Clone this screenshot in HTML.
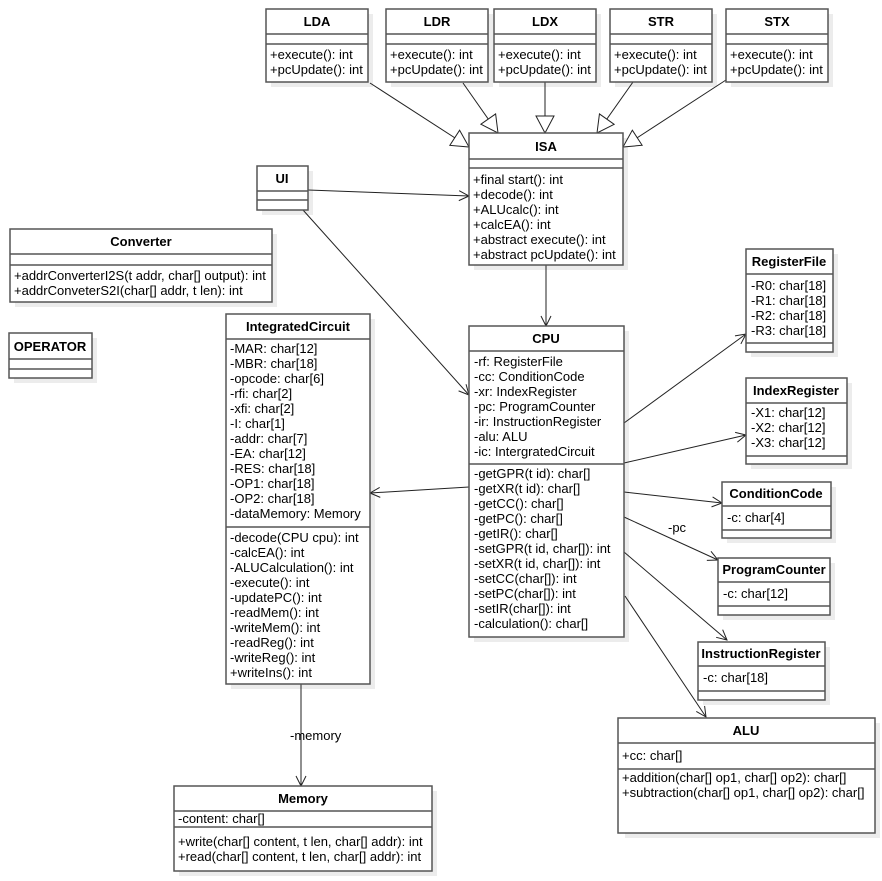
<!DOCTYPE html>
<html><head><meta charset="utf-8"><style>
html,body{margin:0;padding:0;background:#fff;}
svg{display:block;}
text{font-family:"Liberation Sans",Arial,sans-serif;font-size:13px;fill:#000;}
.b{font-weight:bold;text-anchor:middle;}
.box{fill:#fff;stroke:#555;stroke-width:1.5;}
.sh{fill:#ececec;}
.ln{stroke:#555;stroke-width:1.5;}
.c{stroke:#222;stroke-width:1;fill:none;}
</style></head><body>
<svg width="882" height="881" viewBox="0 0 882 881" xmlns="http://www.w3.org/2000/svg">
<defs>
<marker id="oa" markerWidth="12" markerHeight="12" refX="11" refY="6" orient="auto" markerUnits="userSpaceOnUse">
<path d="M1,1 L11,6 L1,11" fill="none" stroke="#222" stroke-width="1"/>
</marker>
<marker id="tri" markerWidth="20" markerHeight="20" refX="18" refY="10" orient="auto" markerUnits="userSpaceOnUse">
<path d="M1,1 L18,10 L1,19 Z" fill="#fff" stroke="#222" stroke-width="1"/>
</marker>
</defs>

<g class="sh">
<rect x="271" y="14" width="102" height="73"/>
<rect x="391" y="14" width="102" height="73"/>
<rect x="499" y="14" width="102" height="73"/>
<rect x="615" y="14" width="102" height="73"/>
<rect x="731" y="14" width="102" height="73"/>
<rect x="474" y="138" width="154" height="132"/>
<rect x="262" y="171" width="51" height="44"/>
<rect x="15" y="234" width="262" height="73"/>
<rect x="14" y="338" width="83" height="45"/>
<rect x="231" y="319" width="144" height="370"/>
<rect x="474" y="331" width="155" height="311"/>
<rect x="751" y="254" width="87" height="103"/>
<rect x="751" y="383" width="101" height="86"/>
<rect x="727" y="487" width="109" height="56"/>
<rect x="723" y="563" width="112" height="57"/>
<rect x="703" y="647" width="127" height="58"/>
<rect x="625" y="723" width="255" height="115"/>
<rect x="179" y="791" width="258" height="85"/>
</g>

<g class="c">
<line x1="370" y1="83" x2="469" y2="147" marker-end="url(#tri)"/>
<line x1="463" y1="83" x2="498" y2="133" marker-end="url(#tri)"/>
<line x1="545" y1="82" x2="545" y2="133" marker-end="url(#tri)"/>
<line x1="633" y1="82" x2="597" y2="133" marker-end="url(#tri)"/>
<line x1="726" y1="80" x2="623" y2="147" marker-end="url(#tri)"/>
<line x1="308" y1="190" x2="469" y2="196" marker-end="url(#oa)"/>
<line x1="303" y1="210" x2="469" y2="395" marker-end="url(#oa)"/>
<line x1="546" y1="265" x2="546" y2="326" marker-end="url(#oa)"/>
<line x1="469" y1="487" x2="370" y2="493" marker-end="url(#oa)"/>
<line x1="624" y1="423" x2="746" y2="334" marker-end="url(#oa)"/>
<line x1="624" y1="463" x2="746" y2="435" marker-end="url(#oa)"/>
<line x1="624" y1="492" x2="722" y2="503" marker-end="url(#oa)"/>
<line x1="624" y1="517" x2="718" y2="560" marker-end="url(#oa)"/>
<line x1="624" y1="552" x2="727" y2="640" marker-end="url(#oa)"/>
<line x1="625" y1="596" x2="706" y2="717" marker-end="url(#oa)"/>
<line x1="301" y1="684" x2="301" y2="786" marker-end="url(#oa)"/>
</g>
<text x="668" y="532">-pc</text>
<text x="290" y="740">-memory</text>

<g>
<rect class="box" x="266" y="9" width="102" height="73"/><line class="ln" x1="266" y1="34" x2="368" y2="34"/><line class="ln" x1="266" y1="44" x2="368" y2="44"/>
<text class="b" x="317" y="26">LDA</text><text x="270" y="59">+execute(): int</text><text x="270" y="74">+pcUpdate(): int</text>
<rect class="box" x="386" y="9" width="102" height="73"/><line class="ln" x1="386" y1="34" x2="488" y2="34"/><line class="ln" x1="386" y1="44" x2="488" y2="44"/>
<text class="b" x="437" y="26">LDR</text><text x="390" y="59">+execute(): int</text><text x="390" y="74">+pcUpdate(): int</text>
<rect class="box" x="494" y="9" width="102" height="73"/><line class="ln" x1="494" y1="34" x2="596" y2="34"/><line class="ln" x1="494" y1="44" x2="596" y2="44"/>
<text class="b" x="545" y="26">LDX</text><text x="498" y="59">+execute(): int</text><text x="498" y="74">+pcUpdate(): int</text>
<rect class="box" x="610" y="9" width="102" height="73"/><line class="ln" x1="610" y1="34" x2="712" y2="34"/><line class="ln" x1="610" y1="44" x2="712" y2="44"/>
<text class="b" x="661" y="26">STR</text><text x="614" y="59">+execute(): int</text><text x="614" y="74">+pcUpdate(): int</text>
<rect class="box" x="726" y="9" width="102" height="73"/><line class="ln" x1="726" y1="34" x2="828" y2="34"/><line class="ln" x1="726" y1="44" x2="828" y2="44"/>
<text class="b" x="777" y="26">STX</text><text x="730" y="59">+execute(): int</text><text x="730" y="74">+pcUpdate(): int</text>
</g>

<rect class="box" x="469" y="133" width="154" height="132"/><line class="ln" x1="469" y1="159" x2="623" y2="159"/><line class="ln" x1="469" y1="168" x2="623" y2="168"/>
<text class="b" x="546" y="151">ISA</text>
<text x="473" y="184">+final start(): int</text><text x="473" y="199">+decode(): int</text><text x="473" y="214">+ALUcalc(): int</text><text x="473" y="229">+calcEA(): int</text><text x="473" y="244">+abstract execute(): int</text><text x="473" y="259">+abstract pcUpdate(): int</text>

<rect class="box" x="257" y="166" width="51" height="44"/><line class="ln" x1="257" y1="191" x2="308" y2="191"/><line class="ln" x1="257" y1="200" x2="308" y2="200"/>
<text class="b" x="282" y="183">UI</text>

<rect class="box" x="10" y="229" width="262" height="73"/><line class="ln" x1="10" y1="254" x2="272" y2="254"/><line class="ln" x1="10" y1="265" x2="272" y2="265"/>
<text class="b" x="141" y="246">Converter</text>
<text x="14" y="280">+addrConverterI2S(t addr, char[] output): int</text><text x="14" y="295">+addrConveterS2I(char[] addr, t len): int</text>

<rect class="box" x="9" y="333" width="83" height="45"/><line class="ln" x1="9" y1="359" x2="92" y2="359"/><line class="ln" x1="9" y1="369" x2="92" y2="369"/>
<text class="b" x="50" y="351">OPERATOR</text>

<rect class="box" x="226" y="314" width="144" height="370"/><line class="ln" x1="226" y1="339" x2="370" y2="339"/><line class="ln" x1="226" y1="527" x2="370" y2="527"/>
<text class="b" x="298" y="331">IntegratedCircuit</text>
<text x="230" y="353">-MAR: char[12]</text><text x="230" y="368">-MBR: char[18]</text><text x="230" y="383">-opcode: char[6]</text><text x="230" y="398">-rfi: char[2]</text><text x="230" y="413">-xfi: char[2]</text><text x="230" y="428">-I: char[1]</text><text x="230" y="443">-addr: char[7]</text><text x="230" y="458">-EA: char[12]</text><text x="230" y="473">-RES: char[18]</text><text x="230" y="488">-OP1: char[18]</text><text x="230" y="503">-OP2: char[18]</text><text x="230" y="518">-dataMemory: Memory</text>
<text x="230" y="542">-decode(CPU cpu): int</text><text x="230" y="557">-calcEA(): int</text><text x="230" y="572">-ALUCalculation(): int</text><text x="230" y="587">-execute(): int</text><text x="230" y="602">-updatePC(): int</text><text x="230" y="617">-readMem(): int</text><text x="230" y="632">-writeMem(): int</text><text x="230" y="647">-readReg(): int</text><text x="230" y="662">-writeReg(): int</text><text x="230" y="677">+writeIns(): int</text>

<rect class="box" x="469" y="326" width="155" height="311"/><line class="ln" x1="469" y1="351" x2="624" y2="351"/><line class="ln" x1="469" y1="464" x2="624" y2="464"/>
<text class="b" x="546" y="343">CPU</text>
<text x="474" y="366">-rf: RegisterFile</text><text x="474" y="381">-cc: ConditionCode</text><text x="474" y="396">-xr: IndexRegister</text><text x="474" y="411">-pc: ProgramCounter</text><text x="474" y="426">-ir: InstructionRegister</text><text x="474" y="441">-alu: ALU</text><text x="474" y="456">-ic: IntergratedCircuit</text>
<text x="474" y="478">-getGPR(t id): char[]</text><text x="474" y="493">-getXR(t id): char[]</text><text x="474" y="508">-getCC(): char[]</text><text x="474" y="523">-getPC(): char[]</text><text x="474" y="538">-getIR(): char[]</text><text x="474" y="553">-setGPR(t id, char[]): int</text><text x="474" y="568">-setXR(t id, char[]): int</text><text x="474" y="583">-setCC(char[]): int</text><text x="474" y="598">-setPC(char[]): int</text><text x="474" y="613">-setIR(char[]): int</text><text x="474" y="628">-calculation(): char[]</text>

<rect class="box" x="746" y="249" width="87" height="103"/><line class="ln" x1="746" y1="274" x2="833" y2="274"/><line class="ln" x1="746" y1="343" x2="833" y2="343"/>
<text class="b" x="789" y="266">RegisterFile</text>
<text x="751" y="290">-R0: char[18]</text><text x="751" y="305">-R1: char[18]</text><text x="751" y="320">-R2: char[18]</text><text x="751" y="335">-R3: char[18]</text>

<rect class="box" x="746" y="378" width="101" height="86"/><line class="ln" x1="746" y1="403" x2="847" y2="403"/><line class="ln" x1="746" y1="456" x2="847" y2="456"/>
<text class="b" x="796" y="395">IndexRegister</text>
<text x="751" y="417">-X1: char[12]</text><text x="751" y="432">-X2: char[12]</text><text x="751" y="447">-X3: char[12]</text>

<rect class="box" x="722" y="482" width="109" height="56"/><line class="ln" x1="722" y1="506" x2="831" y2="506"/><line class="ln" x1="722" y1="530" x2="831" y2="530"/>
<text class="b" x="776" y="498">ConditionCode</text><text x="727" y="522">-c: char[4]</text>

<rect class="box" x="718" y="558" width="112" height="57"/><line class="ln" x1="718" y1="582" x2="830" y2="582"/><line class="ln" x1="718" y1="606" x2="830" y2="606"/>
<text class="b" x="774" y="574">ProgramCounter</text><text x="723" y="598">-c: char[12]</text>

<rect class="box" x="698" y="642" width="127" height="58"/><line class="ln" x1="698" y1="666" x2="825" y2="666"/><line class="ln" x1="698" y1="691" x2="825" y2="691"/>
<text class="b" x="761" y="658">InstructionRegister</text><text x="703" y="682">-c: char[18]</text>

<rect class="box" x="618" y="718" width="257" height="115"/><line class="ln" x1="618" y1="743" x2="875" y2="743"/><line class="ln" x1="618" y1="769" x2="875" y2="769"/>
<text class="b" x="746" y="735">ALU</text><text x="622" y="760">+cc: char[]</text>
<text x="622" y="782">+addition(char[] op1, char[] op2): char[]</text><text x="622" y="797">+subtraction(char[] op1, char[] op2): char[]</text>

<rect class="box" x="174" y="786" width="258" height="85"/><line class="ln" x1="174" y1="811" x2="432" y2="811"/><line class="ln" x1="174" y1="827" x2="432" y2="827"/>
<text class="b" x="303" y="803">Memory</text><text x="178" y="823">-content: char[]</text>
<text x="178" y="846">+write(char[] content, t len, char[] addr): int</text><text x="178" y="861">+read(char[] content, t len, char[] addr): int</text>
</svg>
</body></html>
